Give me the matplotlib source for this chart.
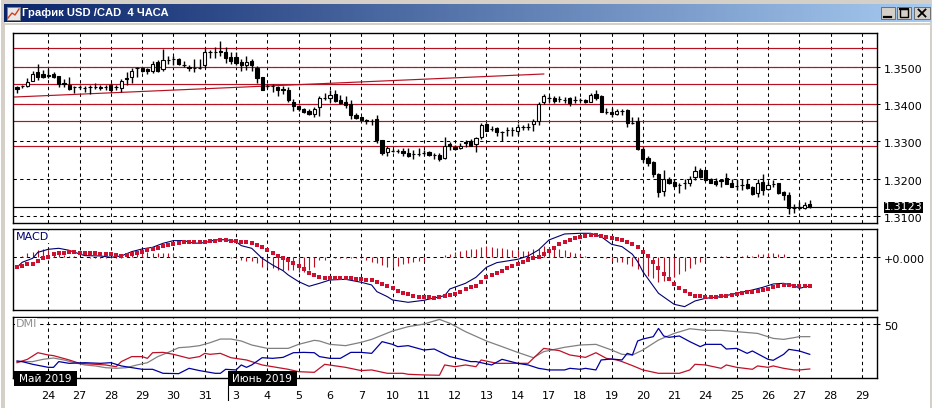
import numpy as np
import matplotlib
matplotlib.use("Agg")
import matplotlib.pyplot as plt
from matplotlib.patches import Rectangle
from matplotlib.transforms import ScaledTranslation
from matplotlib.colors import LinearSegmentedColormap

# ---------- data: USD/CAD 4h candles ----------
opens = [1.3444,1.3448,1.3448,1.3462,1.3484,1.3480,1.3478,1.3480,1.3475,1.3455,
1.3451,1.3446,1.3445,1.3442,1.3444,1.3446,1.3446,1.3446,1.3451,1.3445,
1.3442,1.3470,1.3471,1.3495,1.3496,1.3493,1.3489,1.3512,1.3493,1.3518,
1.3520,1.3521,1.3504,1.3500,1.3497,1.3497,1.3503,1.3538,1.3540,1.3542,
1.3540,1.3525,1.3525,1.3513,1.3503,1.3516,1.3496,1.3471,1.3449,1.3448,
1.3446,1.3439,1.3436,1.3406,1.3395,1.3386,1.3382,1.3373,1.3391,1.3415,
1.3417,1.3427,1.3411,1.3404,1.3400,1.3370,1.3365,1.3357,1.3355,1.3359,
1.3302,1.3272,1.3274,1.3275,1.3274,1.3268,1.3266,1.3266,1.3268,1.3271,
1.3262,1.3262,1.3256,1.3293,1.3285,1.3281,1.3299,1.3301,1.3292,1.3311,
1.3345,1.3332,1.3335,1.3324,1.3330,1.3330,1.3328,1.3337,1.3339,1.3345,
1.3354,1.3404,1.3415,1.3415,1.3413,1.3411,1.3415,1.3409,1.3411,1.3411,
1.3406,1.3427,1.3420,1.3379,1.3379,1.3373,1.3382,1.3384,1.3350,1.3355,
1.3280,1.3254,1.3244,1.3213,1.3167,1.3200,1.3191,1.3182,1.3187,1.3188,
1.3204,1.3222,1.3222,1.3200,1.3193,1.3192,1.3202,1.3188,1.3179,1.3183,
1.3185,1.3176,1.3162,1.3191,1.3172,1.3185,1.3187,1.3164,1.3157,1.3120,
1.3120,1.3122,1.3133]
highs = [1.3448,1.3451,1.3469,1.3487,1.3506,1.3491,1.3493,1.3485,1.3475,1.3466,
1.3471,1.3449,1.3451,1.3448,1.3451,1.3455,1.3451,1.3451,1.3455,1.3451,
1.3466,1.3484,1.3496,1.3500,1.3500,1.3496,1.3515,1.3518,1.3547,1.3527,
1.3527,1.3522,1.3515,1.3504,1.3520,1.3520,1.3549,1.3545,1.3552,1.3569,
1.3551,1.3538,1.3538,1.3520,1.3529,1.3520,1.3502,1.3473,1.3453,1.3453,
1.3449,1.3449,1.3445,1.3413,1.3397,1.3390,1.3386,1.3391,1.3420,1.3430,
1.3436,1.3436,1.3424,1.3420,1.3411,1.3375,1.3365,1.3360,1.3360,1.3370,
1.3303,1.3286,1.3278,1.3280,1.3281,1.3281,1.3277,1.3281,1.3277,1.3274,
1.3268,1.3268,1.3312,1.3299,1.3290,1.3295,1.3303,1.3305,1.3312,1.3350,
1.3350,1.3341,1.3337,1.3328,1.3337,1.3337,1.3345,1.3344,1.3348,1.3359,
1.3406,1.3426,1.3420,1.3420,1.3420,1.3418,1.3418,1.3421,1.3415,1.3413,
1.3429,1.3436,1.3424,1.3388,1.3388,1.3386,1.3386,1.3386,1.3365,1.3364,
1.3285,1.3260,1.3246,1.3216,1.3224,1.3204,1.3200,1.3187,1.3198,1.3206,
1.3233,1.3227,1.3224,1.3202,1.3202,1.3200,1.3216,1.3200,1.3200,1.3200,
1.3200,1.3179,1.3200,1.3212,1.3191,1.3196,1.3189,1.3167,1.3164,1.3131,
1.3137,1.3137,1.3142]
lows = [1.3430,1.3442,1.3445,1.3460,1.3464,1.3469,1.3470,1.3470,1.3446,1.3444,
1.3437,1.3430,1.3440,1.3433,1.3426,1.3439,1.3436,1.3437,1.3433,1.3437,
1.3433,1.3451,1.3457,1.3471,1.3484,1.3480,1.3482,1.3484,1.3489,1.3507,
1.3503,1.3504,1.3500,1.3487,1.3484,1.3494,1.3496,1.3522,1.3522,1.3527,
1.3509,1.3507,1.3504,1.3489,1.3491,1.3489,1.3457,1.3436,1.3442,1.3433,
1.3420,1.3426,1.3406,1.3381,1.3382,1.3375,1.3370,1.3364,1.3368,1.3409,
1.3406,1.3406,1.3400,1.3390,1.3360,1.3359,1.3355,1.3345,1.3344,1.3296,
1.3263,1.3261,1.3270,1.3269,1.3259,1.3257,1.3252,1.3261,1.3262,1.3261,
1.3252,1.3248,1.3252,1.3277,1.3277,1.3278,1.3284,1.3286,1.3272,1.3306,
1.3326,1.3326,1.3315,1.3301,1.3314,1.3314,1.3317,1.3330,1.3330,1.3328,
1.3344,1.3399,1.3406,1.3402,1.3404,1.3402,1.3395,1.3402,1.3404,1.3402,
1.3404,1.3411,1.3378,1.3373,1.3366,1.3370,1.3369,1.3337,1.3345,1.3276,
1.3245,1.3234,1.3204,1.3151,1.3154,1.3185,1.3176,1.3162,1.3173,1.3179,
1.3197,1.3202,1.3194,1.3187,1.3179,1.3178,1.3184,1.3176,1.3169,1.3169,
1.3171,1.3155,1.3151,1.3157,1.3169,1.3178,1.3158,1.3142,1.3106,1.3108,
1.3115,1.3117,1.3121]
closes = [1.3441,1.3448,1.3458,1.3480,1.3471,1.3471,1.3475,1.3472,1.3453,1.3453,
1.3440,1.3446,1.3445,1.3442,1.3444,1.3446,1.3443,1.3446,1.3437,1.3445,
1.3462,1.3466,1.3489,1.3495,1.3488,1.3487,1.3506,1.3489,1.3518,1.3518,
1.3520,1.3506,1.3504,1.3496,1.3496,1.3497,1.3538,1.3538,1.3540,1.3538,
1.3524,1.3515,1.3509,1.3503,1.3513,1.3503,1.3470,1.3437,1.3449,1.3448,
1.3436,1.3436,1.3409,1.3395,1.3385,1.3377,1.3372,1.3386,1.3415,1.3415,
1.3423,1.3408,1.3402,1.3396,1.3369,1.3363,1.3357,1.3353,1.3355,1.3302,
1.3269,1.3282,1.3274,1.3275,1.3268,1.3261,1.3266,1.3266,1.3268,1.3262,
1.3262,1.3252,1.3288,1.3286,1.3278,1.3287,1.3294,1.3287,1.3308,1.3344,
1.3328,1.3332,1.3324,1.3324,1.3330,1.3330,1.3337,1.3337,1.3339,1.3353,
1.3399,1.3421,1.3415,1.3408,1.3413,1.3411,1.3402,1.3409,1.3411,1.3404,
1.3424,1.3415,1.3379,1.3379,1.3373,1.3381,1.3382,1.3350,1.3350,1.3280,
1.3252,1.3241,1.3211,1.3164,1.3198,1.3188,1.3180,1.3182,1.3187,1.3200,
1.3219,1.3204,1.3196,1.3189,1.3186,1.3197,1.3185,1.3178,1.3179,1.3183,
1.3175,1.3158,1.3189,1.3169,1.3182,1.3185,1.3162,1.3155,1.3120,1.3120,
1.3124,1.3130,1.3124]
last_price = 1.3123
support_levels = [1.3549, 1.3500, 1.3452, 1.3400, 1.3353, 1.3287]
trend_idx = [-1, 101]
trend_val = [1.3418, 1.3480]
price_ticks = [1.35, 1.34, 1.33, 1.32, 1.31]

# MACD, in units of 0.00003
macd_idx = [0,1,3,4,6,8,10,12,13,16,18,20,22,24,26,28,30,32,34,36,38,40,42,43,45,46,47,49,51,52,54,56,58,60,63,66,68,69,71,72,75,78,82,83,86,88,90,92,96,98,100,102,105,108,110,112,114,116,118,119,120,123,126,128,130,132,135,138,141,143,145,147,149,150,152]
macd_val = [-30,-15,-3,15,24,27,21,10,5,4,0,4,17,25,30,42,50,50,42,44,52,53,47,35,27,12,-3,-23,-40,-53,-73,-87,-78,-68,-66,-75,-83,-103,-118,-128,-135,-129,-115,-95,-78,-60,-30,-16,-6,4,22,52,70,72,72,62,39,32,9,-13,-43,-108,-141,-148,-131,-123,-118,-108,-98,-90,-80,-78,-85,-93,-86]
signal_val = [-30,-26,-21,-19,-10,-3,2,9,12,14,
15,15,14,14,13,12,11,10,9,7,
5,7,10,13,17,22,25,29,34,38,
40,42,45,45,45,45,46,48,50,52,
52,50,48,47,45,42,37,31,23,13,
4,-1,-7,-18,-26,-35,-48,-54,-59,-61,
-63,-62,-62,-62,-63,-65,-66,-68,-69,-75,
-79,-86,-92,-100,-106,-111,-116,-118,-120,-120,
-121,-119,-116,-113,-110,-103,-96,-90,-86,-75,
-60,-54,-46,-40,-33,-27,-21,-15,-9,-3,
2,10,19,29,39,47,51,57,61,64,
66,66,64,62,59,56,51,45,39,31,
15,3,-13,-33,-51,-66,-81,-93,-102,-111,
-115,-117,-118,-119,-118,-117,-115,-113,-110,-107,
-105,-103,-101,-99,-96,-90,-87,-83,-84,-85,
-86,-87,-87]
hist_val = [2,5,12,17,22,24,22,17,9,7,
5,3,2,0,-3,-3,-3,-3,-3,-3,
-1,5,12,17,19,15,12,12,12,12,
12,5,0,0,0,0,1,2,2,1,
0,-3,-3,-8,-10,-11,-18,-30,-28,-33,
-38,-38,-38,-38,-43,-45,-38,-28,-8,-8,
0,-1,-1,-1,-2,-3,-3,-8,-13,-18,
-23,-28,-28,-25,-21,-17,-13,-10,-11,0,
0,0,7,9,15,19,21,24,25,32,
34,32,29,27,25,23,21,19,19,25,
25,33,32,27,25,22,17,12,9,5,
2,1,0,-3,-11,-15,-15,-20,-25,-36,
-50,-56,-63,-73,-71,-66,-58,-50,-41,-33,
-20,-13,-11,0,0,5,5,2,5,5,
7,5,11,11,13,12,10,9,0,0,
0,0,0]

# DMI
adx_idx = [0,3,5,7,9,11,13,15,17,19,21,23,25,27,29,31,33,35,37,39,41,43,45,48,52,54,57,58,60,63,66,68,72,75,78,81,83,86,90,93,96,99,101,105,108,111,114,116,118,120,123,126,129,132,135,138,142,145,147,149,150,152]
adx_val = [15.4,15.4,17.5,18.7,16.9,14.4,12.3,11.4,9.8,9.2,9.8,12.3,14.4,20.0,23.9,28.2,28.9,30.1,32.8,36.2,36.2,34.4,30.7,27.6,27.6,31.3,35.0,34.4,31.3,30.1,33.2,35.9,43.6,47.6,50.0,54.3,50.7,43.0,34.4,29.2,23.9,19.0,24.6,28.6,30.7,31.3,26.1,22.1,21.5,26.1,35.3,41.4,45.7,44.2,44.2,43.0,41.4,36.8,35.9,37.5,38.4,38.4]
dim_idx = [0,2,4,6,7,10,12,15,17,19,20,22,24,25,26,28,30,33,35,36,37,39,41,44,47,49,52,54,57,59,63,66,68,71,74,75,78,81,82,84,86,88,89,92,95,98,99,101,104,106,109,111,113,115,116,118,120,123,127,129,130,132,135,136,138,141,142,144,145,147,149,150,152]
dim_val = [14.4,17.5,23.6,21.5,20.9,16.9,13.8,12.9,12.3,10.7,15.4,20.0,20.0,18.4,23.6,23.9,22.1,18.4,20.0,23.0,22.1,23.0,19.0,16.9,12.3,10.7,8.3,6.1,5.5,12.9,10.1,7.1,7.7,4.6,4.6,3.7,3.1,2.8,12.3,10.7,12.3,10.7,16.9,13.8,13.8,13.8,18.4,27.6,25.5,21.5,19.3,23.6,18.4,16.9,15.4,11.7,7.7,4.6,4.6,7.7,12.9,12.3,9.2,12.3,10.1,8.3,11.4,10.1,11.4,9.2,7.7,7.7,8.6]
dip_idx = [0,1,3,6,7,8,10,13,16,18,20,24,26,28,31,33,35,38,39,40,42,43,44,45,47,49,51,53,55,57,58,60,62,64,66,68,70,72,73,75,78,80,83,87,88,91,93,96,98,100,102,105,106,108,109,111,112,114,116,117,118,119,120,122,123,124,125,127,129,131,132,135,136,138,140,141,144,145,147,148,150,152]
dip_val = [16.0,15.4,12.9,10.1,10.1,15.4,13.8,14.4,13.8,14.4,11.4,8.3,8.3,4.6,4.3,9.2,7.1,4.6,4.6,8.3,7.7,12.3,10.1,12.3,19.0,18.4,19.3,23.6,23.9,23.6,20.0,18.4,18.4,23.9,23.9,23.0,33.8,31.3,29.2,30.1,26.1,27.0,20.0,15.4,15.4,12.3,17.5,13.8,12.3,9.2,7.7,7.7,9.2,8.3,9.2,7.7,16.9,17.8,16.9,23.0,21.5,34.4,36.2,38.4,46.0,39.0,37.8,39.0,33.8,29.2,31.3,31.3,27.0,27.6,23.0,25.2,17.5,16.6,22.1,26.7,25.2,22.1]

day_labels = ["24","27","28","29","30","31","3","4","5","6","7","10","11","12","13","14","17","18","19","20","21","24","25","26","27","28","29"]
day_idx = list(range(6, 168, 6))

# ---------- layout ----------
W, H = 932, 408
fig = plt.figure(figsize=(W/100, H/100), dpi=100, facecolor="white")
plt.rcParams["font.family"] = "DejaVu Sans"

def panel(left, top, right, bottom):
    return fig.add_axes([left/W, 1-bottom/H, (right-left)/W, (bottom-top)/H], facecolor="white")

ax_p = panel(13.3, 33.3, 876.5, 223.3)
ax_m = panel(13.3, 229.3, 876.5, 310.3)
ax_d = panel(13.3, 316.7, 876.5, 378.3)

RED = "#b81020"
DOT = "#cc1030"
LW = 0.75
grid_kw = dict(color="black", lw=LW, ls=(0, (3.2, 3.2)), zorder=1)
XLIM = (-0.71, 164.8)

for ax in (ax_p, ax_m, ax_d):
    ax.set_xlim(*XLIM)
    for s in ax.spines.values():
        s.set_linewidth(1.0)
        s.set_color("black")
    ax.set_axisbelow(True)
    ax.yaxis.tick_right()
    ax.set_xticks(day_idx)
    ax.tick_params(axis="x", length=0, labelbottom=False)
    ax.tick_params(axis="y", length=2.5, width=0.75, pad=2.8, labelsize=8)
    for d in day_idx:
        ax.axvline(d, **grid_kw)

def shift_labels(ax, dy_px):
    off = ScaledTranslation(0, dy_px/100, fig.dpi_scale_trans)
    for t in ax.get_yticklabels():
        t.set_transform(t.get_transform() + off)

# ---------- price panel ----------
ax_p.set_ylim(1.3080, 1.3589)
ax_p.set_yticks(price_ticks)
ax_p.set_yticklabels([f"{v:.4f}" for v in price_ticks])
for v in price_ticks:
    ax_p.axhline(v, **grid_kw)
shift_labels(ax_p, -2)
for v in support_levels:
    ax_p.axhline(v, color=RED, lw=0.85, zorder=2)
ax_p.plot(trend_idx, trend_val, color=RED, lw=0.85, zorder=2)
ax_p.axhline(last_price, color="black", lw=0.85, zorder=2)

n = np.arange(len(opens))
o, h, l, c = map(np.array, (opens, highs, lows, closes))
ax_p.vlines(n, l, h, color="black", lw=1.0, zorder=3)
up = c > o
ax_p.bar(n[up], (c-o)[up], bottom=o[up], width=0.62, facecolor="white", edgecolor="black", linewidth=0.8, zorder=4)
ax_p.bar(n[~up], (o-c)[~up], bottom=c[~up], width=0.62, facecolor="black", edgecolor="black", linewidth=0.8, zorder=4)

# ---------- MACD panel ----------
ax_m.set_ylim(-159, 84)
ax_m.set_yticks([0])
ax_m.set_yticklabels(["+0.000"])
ax_m.axhline(0, **grid_kw)
shift_labels(ax_m, -2)
ax_m.vlines(np.arange(len(hist_val)), 0, hist_val, color=RED, lw=0.8, zorder=2)
ax_m.plot(macd_idx, macd_val, color="#000070", lw=0.8, zorder=3)
ax_m.scatter(np.arange(len(signal_val)), signal_val, marker="s", s=6.0, color=DOT, linewidths=0, zorder=4)
ax_m.text(0.0025, 0.90, "MACD", transform=ax_m.transAxes, fontsize=8, color="#000070", va="center", ha="left", zorder=6,
          bbox=dict(facecolor="white", edgecolor="none", pad=0.5))

# ---------- DMI panel ----------
ax_d.set_ylim(0, 56.8)
ax_d.set_yticks([50])
ax_d.set_yticklabels(["50"])
ax_d.axhline(50, **grid_kw)
shift_labels(ax_d, -2)
ax_d.plot(adx_idx, adx_val, color="#808080", lw=0.9, zorder=3)
ax_d.plot(dim_idx, dim_val, color="#c01028", lw=0.9, zorder=3)
ax_d.plot(dip_idx, dip_val, color="#0000a0", lw=0.9, zorder=4)
ax_d.text(0.0025, 0.885, "DMI", transform=ax_d.transAxes, fontsize=8, color="#909090", va="center", ha="left", zorder=6,
          bbox=dict(facecolor="white", edgecolor="none", pad=0.5))
ax_d.set_xticklabels(day_labels)
ax_d.tick_params(axis="x", labelbottom=True, labelsize=8, pad=9.3, length=0)

# ---------- window chrome and overlays (pixel coordinates) ----------
ov = fig.add_axes([0, 0, 1, 1], zorder=10, facecolor="none")
ov.axis("off")
grad = LinearSegmentedColormap.from_list("t", ["#0a246a", "#a6caf0"])
ov.imshow(np.linspace(0, 1, 256).reshape(1, -1), cmap=grad, aspect="auto", extent=(4, 931, 22.5, 5), zorder=1)
ov.set_xlim(0, W)
ov.set_ylim(H, 0)
GRAY = "#d4d0c8"
for x, y, w, hh in [(0, 0, W, 5), (0, 22.5, W, 2.5), (1, 0, 3.5, H), (929.5, 0, 2.5, H)]:
    ov.add_patch(Rectangle((x, y), w, hh, facecolor=GRAY, edgecolor="none", zorder=0.5))
ov.add_patch(Rectangle((0, 0), 1, H, facecolor="#ffffff", edgecolor="none", zorder=0.6))
# icon
ov.add_patch(Rectangle((7, 7), 13, 13, facecolor="#e8e8e8", edgecolor="#808080", lw=0.6, zorder=2))
ov.plot([8, 12, 15, 19], [18, 13, 15, 9], color="#d04020", lw=1, zorder=3)
ov.text(21.5, 13.5, "График USD /CAD  4 ЧАСА", color="white", fontsize=8.1, fontweight="bold",
        family="Liberation Sans", va="center", ha="left", zorder=3)
# buttons
for x0, x1 in [(880.7, 895), (896.7, 911), (914, 930)]:
    ov.add_patch(Rectangle((x0, 6.7), x1-x0, 12.6, facecolor=GRAY, edgecolor="#606060", lw=0.6, zorder=2))
ov.plot([884, 891], [16.5, 16.5], color="black", lw=1.6, zorder=3)
ov.add_patch(Rectangle((899.5, 8.5), 8.5, 8.5, facecolor="none", edgecolor="black", lw=1.0, zorder=3))
ov.plot([899.5, 908], [9.2, 9.2], color="black", lw=1.5, zorder=3)
ov.plot([918.5, 925.5], [9.5, 16.5], color="black", lw=1.3, zorder=3)
ov.plot([918.5, 925.5], [16.5, 9.5], color="black", lw=1.3, zorder=3)
# last price box
ov.add_patch(Rectangle((884, 201.7), 39, 10.8, facecolor="black", edgecolor="none", zorder=2))
ov.text(903.5, 207, f"{last_price:.4f}", color="white", fontsize=8, ha="center", va="center", zorder=3)
# month boxes
for x0, x1, txt in [(14, 77, "Май 2019"), (227.5, 297, "Июнь 2019")]:
    ov.add_patch(Rectangle((x0, 371), x1-x0, 15, facecolor="black", edgecolor="none", zorder=2))
    ov.text((x0+x1)/2, 379, txt, color="white", fontsize=7.6, ha="center", va="center", zorder=3)
ov.plot([227.5, 227.5], [386, 400], color="black", lw=0.8, zorder=2)

fig.savefig("out.png", dpi=100, facecolor="white")
